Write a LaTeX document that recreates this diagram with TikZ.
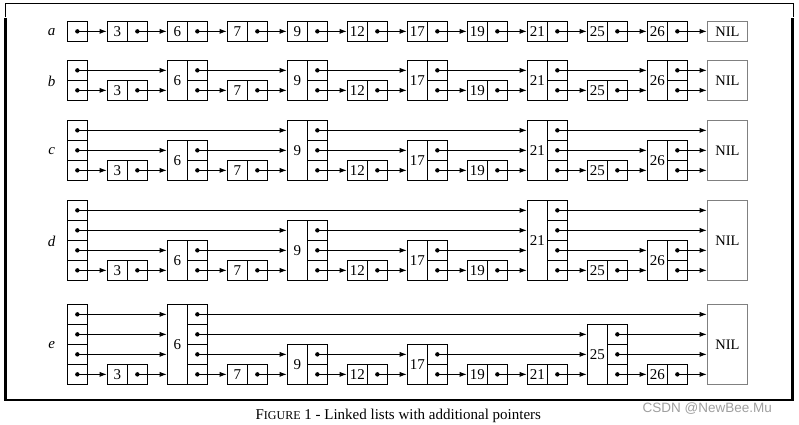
\documentclass[tikz,border=0pt]{standalone}
\usepackage{fontspec}
\setmainfont{Liberation Serif}
\newfontfamily\wmfont{Liberation Sans}
\usetikzlibrary{arrows.meta}

\tikzset{
  keycell/.style={draw, line width=1.3pt, minimum width=20pt, inner sep=0pt,
    anchor=south west, font=\fontsize{15}{15}\selectfont},
  ptrcell/.style={draw, line width=1.3pt, minimum width=20pt, minimum height=20pt,
    inner sep=0pt, anchor=south west,
    path picture={\fill (path picture bounding box.center) circle (2.2pt);}},
  nilbox/.style={draw=gray, line width=1.3pt, minimum width=40pt, inner sep=0pt,
    anchor=south west, font=\fontsize{14.5}{15}\selectfont},
  ptr/.style={-{Latex[length=7pt,width=5pt]}, line width=0.8pt},
  rowlabel/.style={font=\fontsize{15}{15}\selectfont\itshape},
}

% one list: #1 row name, #2 bottom y, #3 levels of head and NIL, #4 key/levels
\newcommand{\skiprow}[4]{%
  \foreach \l in {1,...,#3}
    \node[ptrcell] (#1h-\l) at (66.7,#2-20*\l+20) {};
  \foreach \k/\h [count=\i] in {#4}{
    \node[keycell, minimum height=\h*20pt] (#1\k) at (46.7+60*\i,#2) {\k};
    \foreach \l in {1,...,\h}
      \node[ptrcell] (#1\k-\l) at (66.7+60*\i,#2-20*\l+20) {};
  }
  \node[nilbox, minimum height=#3*20pt] (#1nil) at (706.7,#2) {NIL};
}

% pointers of one level: #1 row name, #2 level, #3 source/target pairs
\newcommand{\links}[3]{%
  \foreach \src/\tgt in {#3}
    \draw[ptr] (#1\src-#2.center) -- (#1\src-#2.center -| #1\tgt.west);
}

\begin{document}
\begin{tikzpicture}[x=1pt, y=-1pt]
\useasboundingbox (0,0) rectangle (799,424);

% frame
\draw[line width=0.8pt] (5,17) -- (5,3) -- (793,3) -- (793,17);
\draw[line width=2.5pt] (5.5,18) -- (5.5,400) -- (792.5,400) -- (792.5,18);

% row labels
\node[rowlabel] (la) at (51.7,31.7) {a};
\node[rowlabel] (lb) at (51.7,81) {b};
\node[rowlabel] (lc) at (51.7,151) {c};
\node[rowlabel] (ld) at (51.7,241) {d};
\node[rowlabel] (le) at (51.7,345) {e};

% lists
\skiprow{a}{42}{1}{3/1,6/1,7/1,9/1,12/1,17/1,19/1,21/1,25/1,26/1}
\skiprow{b}{101}{2}{3/1,6/2,7/1,9/2,12/1,17/2,19/1,21/2,25/1,26/2}
\skiprow{c}{181}{3}{3/1,6/2,7/1,9/3,12/1,17/2,19/1,21/3,25/1,26/2}
\skiprow{d}{281}{4}{3/1,6/2,7/1,9/3,12/1,17/2,19/1,21/4,25/1,26/2}
\skiprow{e}{385}{4}{3/1,6/4,7/1,9/2,12/1,17/2,19/1,21/1,25/3,26/1}

% pointers
\foreach \r in {a,b,c,d,e}{
  \links{\r}{1}{h/3,3/6,6/7,7/9,9/12,12/17,17/19,19/21,21/25,25/26,26/nil}
}
\foreach \r in {b,c,d}{
  \links{\r}{2}{h/6,6/9,9/17,17/21,21/26,26/nil}
}
\foreach \r in {c,d}{
  \links{\r}{3}{h/9,9/21,21/nil}
}
\links{d}{4}{h/21,21/nil}
\links{e}{2}{h/6,6/9,9/17,17/25,25/nil}
\links{e}{3}{h/6,6/25,25/nil}
\links{e}{4}{h/6,6/nil}

% caption
\node[font=\fontsize{15}{18}\selectfont] (cap) at (398.3,415.5)
  {F{\fontsize{12}{12}\selectfont IGURE} 1 - Linked lists with additional pointers};
\node[font=\wmfont\fontsize{13.5}{14}\selectfont, text=gray!75] (wm) at (707.3,408.5)
  {CSDN @NewBee.Mu};
\end{tikzpicture}
\end{document}
